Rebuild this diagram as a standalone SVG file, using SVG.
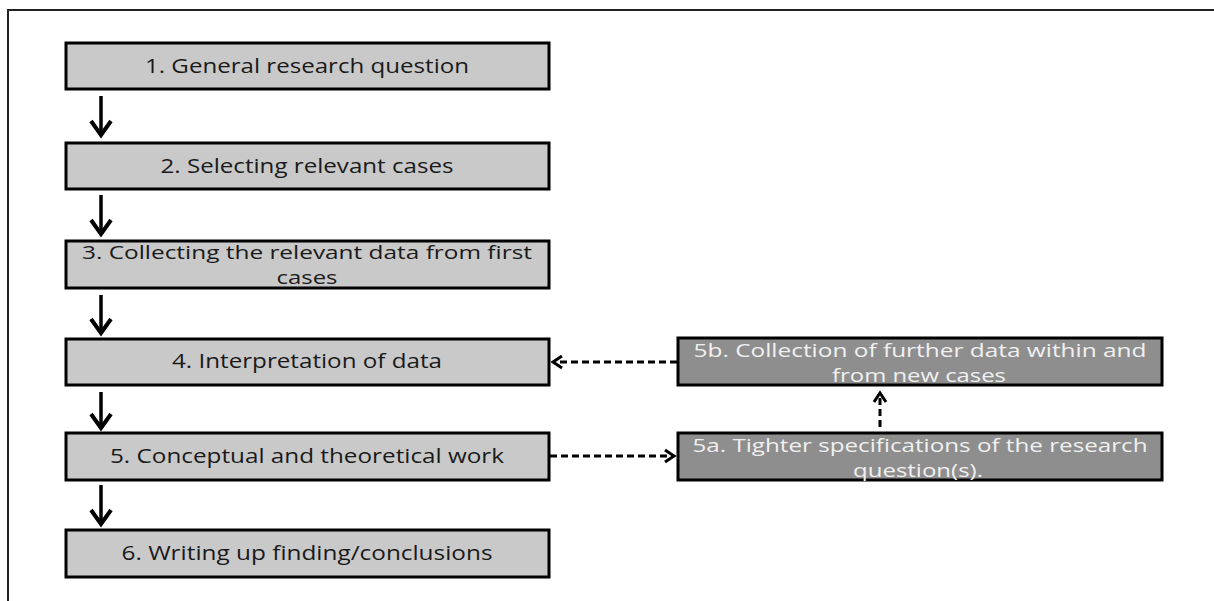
<svg xmlns="http://www.w3.org/2000/svg" width="1214" height="601" viewBox="0 0 1214 601">
<style>
.box{fill:#c9c9c9;stroke:#000;stroke-width:3}
.dbox{fill:#8e8e8e;stroke:#000;stroke-width:3}
.t{font-family:"Open Sans","Liberation Sans",sans-serif;font-size:20px;fill:#1a1a1a;text-anchor:middle}
.s{font-size:18px}
.w{fill:#f0f0f0}
.solid{stroke:#000;stroke-width:3.5;fill:none;marker-end:url(#ah)}
.dash{stroke:#000;stroke-width:3;fill:none;stroke-dasharray:7 4;marker-end:url(#dh)}
</style>
<defs>
<marker id="ah" markerUnits="userSpaceOnUse" viewBox="-16 -12 18 24" refX="0" refY="0" markerWidth="18" markerHeight="24" orient="auto" overflow="visible">
<path d="M-14,-10 L0,0 L-14,10" fill="none" stroke="#000" stroke-width="4"/>
</marker>
<marker id="dh" markerUnits="userSpaceOnUse" viewBox="-12 -8 14 16" refX="0" refY="0" markerWidth="14" markerHeight="16" orient="auto" overflow="visible">
<path d="M-9,-6 L0,0 L-9,6" fill="none" stroke="#000" stroke-width="3"/>
</marker>
</defs>
<rect width="1214" height="601" fill="#fff"/>
<path d="M8,601 V10 H1214" fill="none" stroke="#222" stroke-width="2"/>

<g id="n1"><rect class="box" x="66" y="43" width="483" height="46"/><text class="t" x="307" y="73" textLength="324" lengthAdjust="spacingAndGlyphs">1. General research question</text></g>
<g id="n2"><rect class="box" x="66" y="143" width="483" height="46"/><text class="t" x="307" y="173" textLength="293" lengthAdjust="spacingAndGlyphs">2. Selecting relevant cases</text></g>
<g id="n3"><rect class="box" x="66" y="241" width="483" height="47"/><text class="t s" x="307" y="259" textLength="450" lengthAdjust="spacingAndGlyphs">3. Collecting the relevant data from first</text><text class="t s" x="307" y="284" textLength="61" lengthAdjust="spacingAndGlyphs">cases</text></g>
<g id="n4"><rect class="box" x="66" y="339" width="483" height="46"/><text class="t" x="307" y="368" textLength="270" lengthAdjust="spacingAndGlyphs">4. Interpretation of data</text></g>
<g id="n5"><rect class="box" x="66" y="433" width="483" height="47"/><text class="t" x="307" y="463" textLength="394" lengthAdjust="spacingAndGlyphs">5. Conceptual and theoretical work</text></g>
<g id="n6"><rect class="box" x="66" y="530" width="483" height="47"/><text class="t" x="307" y="560" textLength="371" lengthAdjust="spacingAndGlyphs">6. Writing up finding/conclusions</text></g>
<g id="n5b"><rect class="dbox" x="678" y="338" width="484" height="47"/><text class="t s w" x="920" y="357" textLength="453" lengthAdjust="spacingAndGlyphs">5b. Collection of further data within and</text><text class="t s w" x="919" y="382" textLength="174" lengthAdjust="spacingAndGlyphs">from new cases</text></g>
<g id="n5a"><rect class="dbox" x="678" y="433" width="484" height="47"/><text class="t s w" x="920" y="452" textLength="455" lengthAdjust="spacingAndGlyphs">5a. Tighter specifications of the research</text><text class="t s w" x="918" y="477" textLength="130" lengthAdjust="spacingAndGlyphs">question(s).</text></g>

<g id="connectors">
<path class="solid" d="M101,96 V135"/>
<path class="solid" d="M101,195 V234"/>
<path class="solid" d="M101,295 V333"/>
<path class="solid" d="M101,392 V428"/>
<path class="solid" d="M101,485 V524"/>
<path class="dash" d="M677,362 H553"/>
<path class="dash" d="M550,456 H674"/>
<path class="dash" d="M880,427 V393"/>
</g>
</svg>
